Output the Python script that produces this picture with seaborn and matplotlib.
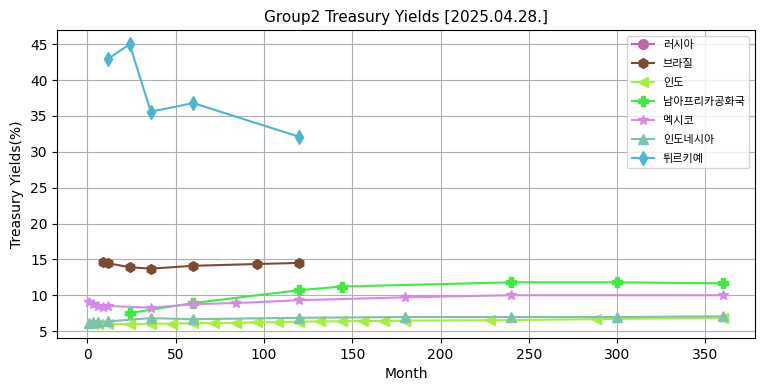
import matplotlib
matplotlib.use("Agg")
import matplotlib.pyplot as plt
import seaborn as sns

# === DANE ===
russia_m = []
russia_y = []

brazil_m = [9, 12, 24, 36, 60, 96, 120]
brazil_y = [14.65, 14.45, 13.9, 13.7, 14.1, 14.35, 14.5]

india_m = [3, 6, 12, 24, 36, 48, 60, 72, 84, 96, 108, 120, 132, 144, 156, 168, 180, 228, 288, 360]
india_y = [5.95, 6.0, 6.0, 5.95, 6.0, 6.05, 6.1, 6.1, 6.15, 6.2, 6.25, 6.3, 6.35, 6.35, 6.4,
           6.4, 6.45, 6.5, 6.65, 6.85]

safrica_m = [24, 60, 120, 144, 240, 300, 360]
safrica_y = [7.5, 8.9, 10.7, 11.2, 11.8, 11.8, 11.65]

mexico_m = [1, 3, 6, 9, 12, 36, 60, 84, 120, 180, 240, 360]
mexico_y = [9.0, 8.75, 8.45, 8.4, 8.5, 8.25, 8.75, 8.9, 9.3, 9.7, 10.0, 10.0]

indonesia_m = [1, 3, 6, 12, 36, 60, 120, 180, 240, 300, 360]
indonesia_y = [6.15, 6.2, 6.25, 6.35, 6.8, 6.65, 6.85, 6.95, 6.95, 6.95, 7.05]

turkey_m = [12, 24, 36, 60, 120]
turkey_y = [43.0, 45.0, 35.6, 36.8, 32.1]

series = [
    ("러시아", russia_m, russia_y, "#c762a7", "o"),
    ("브라질", brazil_m, brazil_y, "#7b4b34", "h"),
    ("인도", india_m, india_y, "#a8ee3e", "<"),
    ("남아프리카공화국", safrica_m, safrica_y, "#40ea40", "P"),
    ("멕시코", mexico_m, mexico_y, "#d48ae8", "*"),
    ("인도네시아", indonesia_m, indonesia_y, "#7cc2ad", "^"),
    ("튀르키예", turkey_m, turkey_y, "#4cb5d0", "d"),
]

plt.rcParams['font.family'] = ['DejaVu Sans', 'Noto Sans CJK KR']
plt.rcParams['axes.unicode_minus'] = False

fig, ax = plt.subplots(figsize=(7.64, 3.91), dpi=100)
fig.subplots_adjust(left=0.075, right=0.988, bottom=0.135, top=0.9225)

for name, m, y, color, mk in series:
    if len(m) == 0:
        # pusta seria - tylko wpis w legendzie
        ax.plot([], [], color=color, marker=mk, markersize=7, label=name)
        continue
    sns.lineplot(x=m, y=y, ax=ax, color=color, marker=mk, markersize=7,
                 markeredgecolor=color, markeredgewidth=1.0, linewidth=1.5, label=name)

ax.set_title("Group2 Treasury Yields [2025.04.28.]", fontsize=11)
ax.set_xlabel("Month")
ax.set_ylabel("Treasury Yields(%)")
ax.grid(True)
ax.legend(loc="upper right", fontsize=8, labelspacing=0.8)
plt.savefig("out.png", dpi=100)
